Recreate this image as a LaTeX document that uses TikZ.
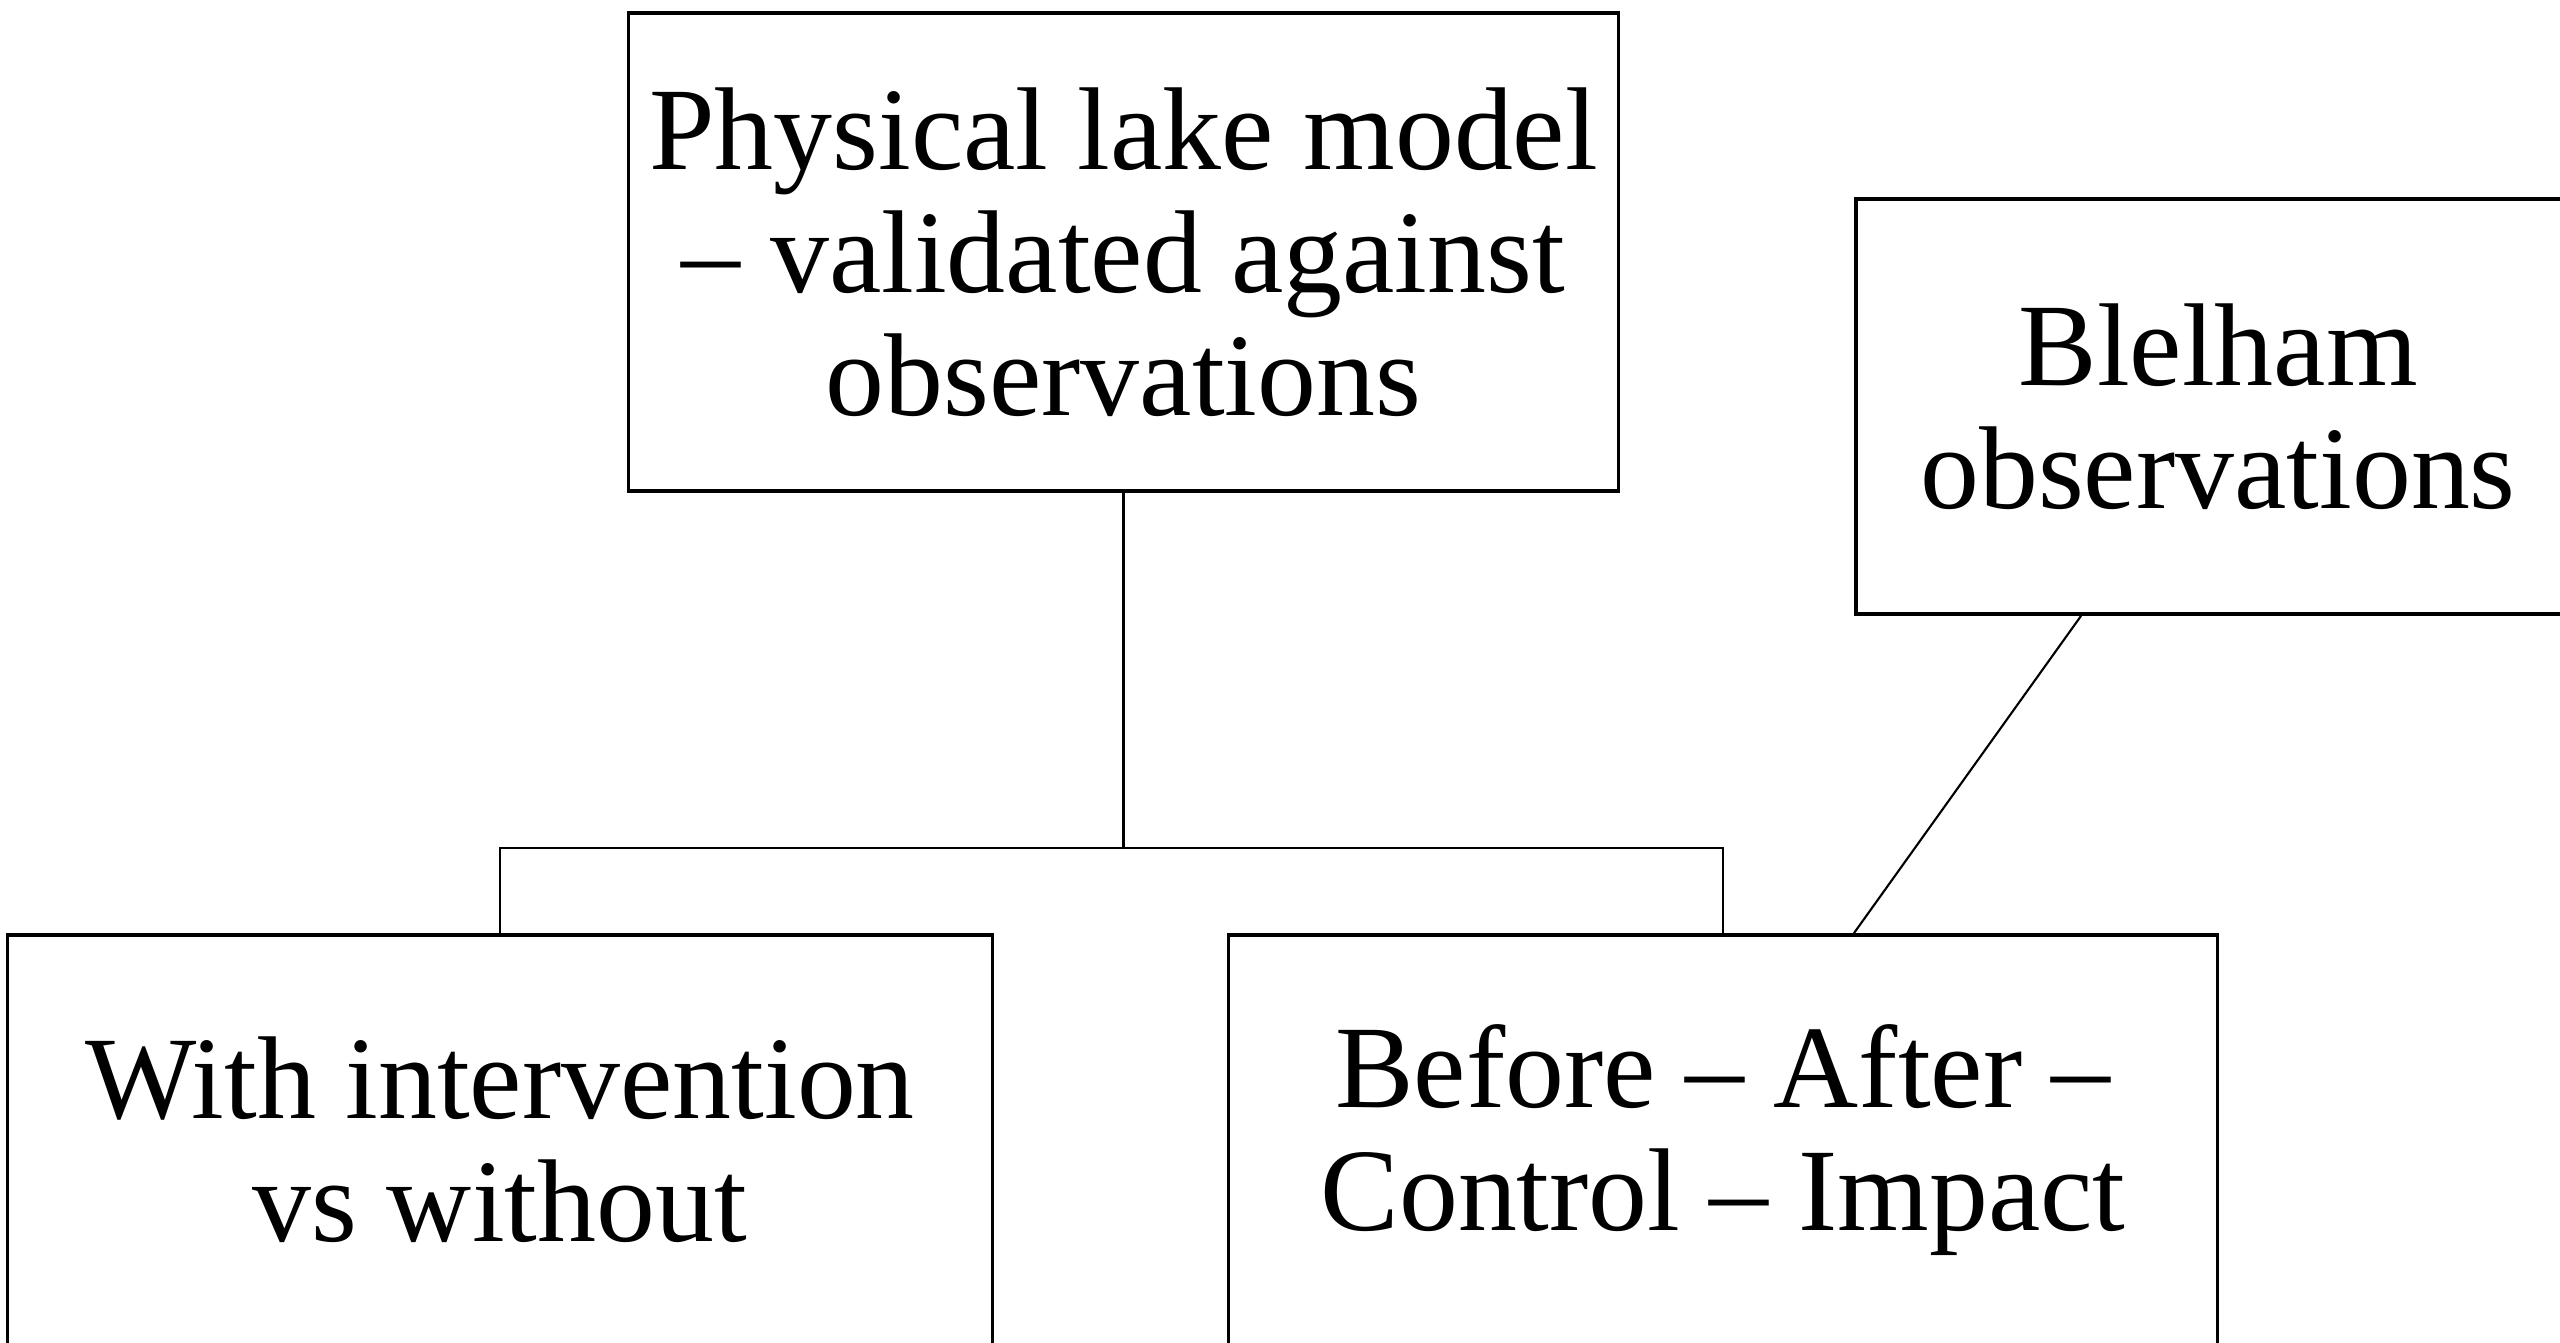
\documentclass[tikz,border=0pt]{standalone}
\usepackage{fontspec}
\setmainfont{Liberation Serif}
\usetikzlibrary{calc}
\begin{document}
\begin{tikzpicture}[x=0.01cm,y=-0.01cm,
  box/.style={draw, line width=1pt, inner sep=0pt, align=center,
    font=\fontsize{33.5}{35}\selectfont},
  link/.style={line width=0.6pt}]
\useasboundingbox (0,0) rectangle (2560,1342);
\clip (0,0) rectangle (2560,1342);
\node[box, minimum width=9.89cm, minimum height=4.78cm] (top) at (1123.5,252)
  {Physical lake model\\– validated against\\observations};
\node[box, minimum width=7.24cm, minimum height=4.15cm] (obs) at (2218,406.5)
  {Blelham\\observations};
\node[box, minimum width=9.84cm, minimum height=4.10cm] (left) at (500,1140)
  {With intervention\\vs without};
\node[box, minimum width=9.88cm, minimum height=4.10cm] (right) at (1723,1140)
  {Before – After –\\Control – Impact};
\coordinate (j) at (1123.5,848);
\draw[link] (top.south) -- (j);
\draw[link] (left.north) |- (j) -| (right.north);
\coordinate (a) at ($(obs.south west)+(227,0)$);
\coordinate (b) at ($(right.north west)+(627,0)$);
\draw[link] (a) -- (b);
\end{tikzpicture}
\end{document}
